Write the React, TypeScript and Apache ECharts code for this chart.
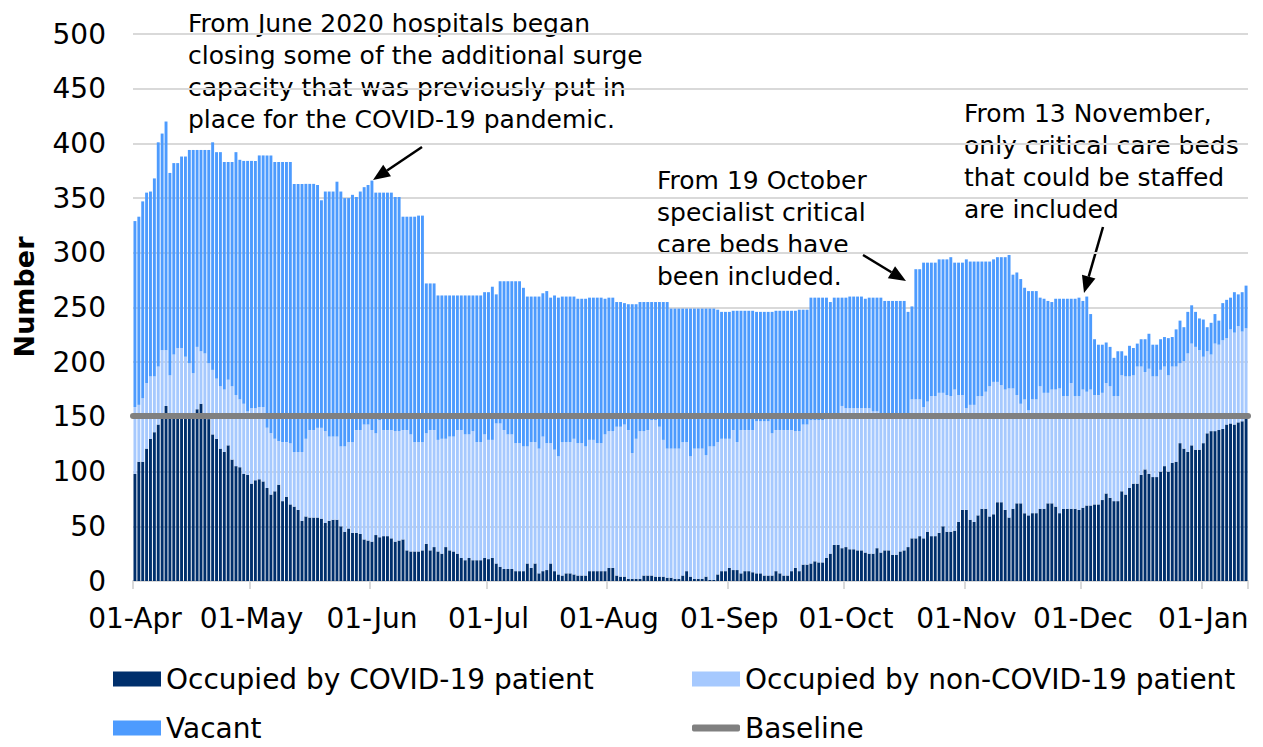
import React, { useEffect, useRef } from "react";
import * as echarts from "echarts";

// Daily critical care beds, 01-Apr-2020 to 12-Jan-2021
const covid = [
  98, 109, 109, 121, 130, 136, 143, 149, 160, 149,
  150, 150, 150, 151, 150, 150, 157, 162, 150, 148,
  134, 130, 121, 118, 124, 111, 105, 104, 98, 97,
  89, 92, 93, 91, 85, 79, 82, 88, 73, 77,
  70, 68, 65, 55, 59, 58, 58, 58, 57, 53,
  55, 56, 56, 50, 45, 48, 44, 44, 43, 38,
  37, 36, 42, 40, 41, 41, 39, 36, 37, 38,
  28, 27, 27, 27, 28, 34, 28, 31, 27, 25,
  31, 28, 27, 25, 21, 19, 21, 19, 19, 19,
  21, 20, 21, 16, 13, 11, 11, 11, 9, 9,
  9, 16, 12, 16, 7, 9, 10, 16, 9, 6,
  5, 7, 7, 6, 5, 5, 5, 9, 9, 9,
  9, 9, 12, 12, 5, 4, 4, 2, 2, 2,
  2, 5, 5, 5, 4, 4, 4, 3, 3, 2,
  2, 5, 9, 4, 2, 2, 2, 4, 1, 1,
  6, 9, 9, 12, 10, 10, 7, 9, 9, 8,
  7, 7, 5, 5, 5, 9, 7, 5, 5, 9,
  12, 9, 15, 15, 16, 18, 17, 17, 21, 25,
  33, 33, 30, 31, 29, 29, 28, 28, 26, 25,
  25, 30, 26, 28, 28, 24, 24, 27, 28, 31,
  39, 39, 41, 39, 45, 41, 41, 44, 50, 45,
  45, 46, 54, 65, 65, 56, 54, 60, 66, 66,
  59, 61, 72, 72, 65, 58, 66, 71, 71, 62,
  60, 62, 62, 66, 66, 71, 71, 68, 62, 66,
  66, 66, 66, 65, 67, 69, 69, 70, 70, 74,
  80, 76, 73, 73, 82, 79, 85, 89, 89, 97,
  102, 98, 95, 95, 100, 105, 100, 108, 109, 126,
  121, 118, 124, 120, 120, 126, 135, 137, 137, 138,
  139, 143, 144, 143, 145, 146, 149,
];

// All occupied beds (COVID-19 + non-COVID-19)
const occupied = [
  159, 161, 167, 181, 187, 187, 196, 211, 211, 188,
  207, 213, 213, 205, 199, 190, 214, 210, 208, 199,
  193, 185, 178, 175, 184, 178, 170, 166, 162, 155,
  158, 158, 159, 159, 140, 135, 130, 128, 127, 127,
  126, 118, 118, 118, 130, 138, 138, 140, 140, 137,
  132, 132, 132, 123, 123, 127, 127, 138, 138, 143,
  143, 138, 135, 147, 138, 138, 138, 137, 137, 138,
  138, 134, 127, 127, 127, 135, 138, 138, 129, 130,
  130, 132, 132, 138, 138, 134, 134, 137, 127, 127,
  134, 129, 129, 144, 144, 138, 134, 134, 126, 126,
  123, 123, 127, 127, 121, 132, 126, 126, 120, 114,
  127, 127, 127, 130, 126, 126, 123, 129, 129, 126,
  126, 134, 137, 137, 141, 141, 143, 138, 117, 130,
  137, 137, 138, 147, 147, 141, 129, 121, 121, 121,
  121, 127, 127, 114, 121, 121, 121, 115, 123, 123,
  127, 130, 130, 130, 138, 127, 138, 138, 138, 138,
  146, 146, 146, 146, 135, 138, 138, 138, 138, 138,
  137, 137, 143, 143, 147, 147, 147, 147, 152, 152,
  152, 152, 160, 158, 158, 158, 158, 158, 158, 158,
  155, 155, 150, 150, 150, 150, 152, 152, 152, 152,
  166, 166, 166, 159, 164, 169, 169, 172, 172, 170,
  169, 175, 170, 170, 158, 161, 161, 169, 169, 173,
  178, 182, 182, 179, 175, 176, 176, 170, 162, 166,
  156, 166, 166, 178, 172, 172, 175, 175, 176, 169,
  169, 181, 169, 169, 175, 173, 175, 170, 170, 172,
  181, 178, 169, 169, 188, 187, 187, 188, 196, 196,
  191, 194, 187, 187, 193, 196, 188, 196, 196, 199,
  201, 208, 217, 214, 211, 205, 210, 207, 217, 216,
  220, 222, 230, 227, 233, 228, 231,
];

// All available critical care beds (occupied + vacant)
const totalBeds = [
  329, 333, 347, 355, 356, 368, 401, 409, 420, 373,
  382, 382, 388, 388, 394, 394, 394, 394, 394, 394,
  401, 392, 392, 383, 383, 383, 392, 385, 384, 384,
  384, 384, 389, 389, 389, 389, 383, 383, 383, 383,
  383, 363, 363, 363, 363, 363, 363, 362, 348, 356,
  356, 356, 365, 356, 350, 350, 353, 351, 356, 360,
  362, 366, 355, 355, 355, 355, 355, 351, 351, 333,
  333, 333, 333, 334, 334, 272, 272, 272, 261, 261,
  261, 261, 261, 261, 261, 261, 261, 261, 261, 261,
  264, 264, 269, 262, 274, 274, 274, 274, 274, 274,
  268, 260, 260, 260, 260, 263, 265, 259, 261, 259,
  260, 260, 260, 260, 258, 258, 258, 259, 259, 259,
  259, 258, 259, 259, 255, 255, 254, 253, 253, 253,
  255, 255, 255, 255, 255, 255, 255, 255, 249, 249,
  249, 249, 249, 249, 249, 249, 249, 249, 249, 249,
  248, 246, 246, 246, 247, 247, 247, 247, 247, 247,
  246, 246, 246, 246, 246, 247, 247, 247, 247, 247,
  247, 248, 248, 248, 259, 259, 259, 259, 259, 255,
  259, 259, 259, 259, 260, 260, 260, 260, 258, 259,
  259, 259, 259, 256, 256, 256, 256, 256, 256, 246,
  251, 285, 285, 291, 291, 291, 291, 294, 294, 294,
  296, 291, 291, 291, 294, 292, 292, 292, 292, 292,
  292, 294, 296, 296, 296, 298, 280, 282, 276, 268,
  265, 265, 265, 259, 258, 256, 255, 258, 258, 258,
  258, 258, 258, 259, 256, 260, 244, 221, 216, 216,
  218, 214, 204, 210, 210, 206, 215, 213, 217, 221,
  221, 226, 216, 216, 221, 223, 222, 223, 230, 238,
  232, 246, 252, 246, 240, 239, 232, 236, 244, 238,
  254, 257, 259, 264, 262, 264, 270,
];

const BASELINE = 151;

const MONTHS = ["Jan", "Feb", "Mar", "Apr", "May", "Jun", "Jul", "Aug", "Sep", "Oct", "Nov", "Dec"];
const START_DATE = Date.UTC(2020, 3, 1);
const categories = covid.map((_, i) => {
  const d = new Date(START_DATE + i * 86400000);
  const day = d.getUTCDate();
  return (day < 10 ? "0" + day : String(day)) + "-" + MONTHS[d.getUTCMonth()];
});

const nonCovid = occupied.map((v, i) => v - covid[i]);
const vacant = totalBeds.map((v, i) => v - occupied[i]);

const FONT = '"DejaVu Sans", "Liberation Sans", sans-serif';
const C_COVID = "#002f6c";
const C_NONCOVID = "#a6c9fe";
const C_VACANT = "#4d9bfe";
const C_BASE = "#808080";
const C_GRID = "#d9d9d9";

function arrow(x1: number, y1: number, x2: number, y2: number) {
  const a = Math.atan2(y2 - y1, x2 - x1);
  const L = 17;
  const W = 7;
  const bx = x2 - L * Math.cos(a);
  const by = y2 - L * Math.sin(a);
  const px = -Math.sin(a);
  const py = Math.cos(a);
  return [
    {
      type: "line",
      shape: { x1, y1, x2: bx, y2: by },
      style: { stroke: "#000", lineWidth: 2.5 },
      silent: true,
    },
    {
      type: "polygon",
      shape: {
        points: [
          [x2, y2],
          [bx + px * W, by + py * W],
          [bx - px * W, by - py * W],
        ],
      },
      style: { fill: "#000" },
      silent: true,
    },
  ];
}

function note(x: number, y: number, text: string) {
  return {
    type: "text",
    x,
    y,
    silent: true,
    style: {
      text,
      fontSize: 25,
      fontFamily: FONT,
      lineHeight: 32,
      fill: "#000",
      align: "left",
      verticalAlign: "top",
    },
  };
}

function legendAt(left: number, top: number, name: string, extra: any = {}) {
  return {
    show: true,
    left,
    top,
    padding: 0,
    orient: "horizontal",
    data: [name],
    itemWidth: 48,
    itemHeight: 15,
    icon: "rect",
    selectedMode: false,
    textStyle: { fontSize: 28, fontFamily: FONT, color: "#000", lineHeight: 26 },
    ...extra,
  };
}

export default function App() {
  const ref = useRef<HTMLDivElement>(null);

  useEffect(() => {
    if (!ref.current) return;
    const chart = echarts.init(ref.current, null, { renderer: "svg" });
    const firstOfMonth = (_idx: number, value: string) => value.startsWith("01-");

    chart.setOption({
      animation: false,
      backgroundColor: "#ffffff",
      grid: { left: 133, right: 15, top: 34, bottom: 166 },
      xAxis: {
        type: "category",
        data: categories,
        boundaryGap: true,
        axisLine: { show: true, lineStyle: { color: C_GRID, width: 2 } },
        axisTick: {
          show: true,
          interval: firstOfMonth,
          length: 8,
          lineStyle: { color: C_GRID, width: 2 },
        },
        axisLabel: {
          interval: firstOfMonth,
          margin: 23,
          fontSize: 28,
          fontFamily: FONT,
          color: "#000",
          hideOverlap: false,
        },
        splitLine: { show: false },
      },
      yAxis: {
        type: "value",
        min: 0,
        max: 500,
        interval: 50,
        axisLine: { show: false },
        axisTick: { show: false },
        axisLabel: { margin: 27, fontSize: 28, fontFamily: FONT, color: "#000" },
        splitLine: { show: true, lineStyle: { color: C_GRID, width: 2 } },
      },
      legend: [
        legendAt(113, 665, "Occupied by COVID-19 patient"),
        legendAt(692, 665, "Occupied by non-COVID-19 patient"),
        legendAt(113, 714, "Vacant"),
        legendAt(692, 714, "Baseline", { icon: "roundRect", itemHeight: 7 }),
      ],
      series: [
        {
          name: "Occupied by COVID-19 patient",
          type: "bar",
          stack: "beds",
          data: covid,
          barCategoryGap: "25%",
          itemStyle: { color: C_COVID },
          silent: true,
        },
        {
          name: "Occupied by non-COVID-19 patient",
          type: "bar",
          stack: "beds",
          data: nonCovid,
          barCategoryGap: "25%",
          itemStyle: { color: C_NONCOVID },
          silent: true,
        },
        {
          name: "Vacant",
          type: "bar",
          stack: "beds",
          data: vacant,
          barCategoryGap: "25%",
          itemStyle: { color: C_VACANT },
          silent: true,
        },
        {
          name: "Baseline",
          type: "line",
          data: [],
          symbol: "none",
          itemStyle: { color: C_BASE },
          lineStyle: { color: C_BASE, width: 6 },
          z: 5,
          markLine: {
            silent: true,
            symbol: ["none", "none"],
            label: { show: false },
            lineStyle: { color: C_BASE, width: 6, type: "solid", cap: "round" },
            emphasis: { disabled: true },
            data: [{ yAxis: BASELINE }],
          },
        },
      ],
      graphic: [
        note(188, 7, "From June 2020 hospitals began\nclosing some of the additional surge\ncapacity that was previously put in\nplace for the COVID-19 pandemic."),
        note(657, 164, "From 19 October\nspecialist critical\ncare beds have\nbeen included."),
        note(964, 97, "From 13 November,\nonly critical care beds\nthat could be staffed\nare included"),
        ...arrow(422, 147, 373, 180),
        ...arrow(863, 255, 906, 281),
        ...arrow(1103, 227, 1084, 293),
        {
          type: "text",
          x: 24,
          y: 297,
          rotation: Math.PI / 2,
          silent: true,
          style: {
            text: "Number",
            fontSize: 27,
            fontWeight: "bold",
            fontFamily: FONT,
            fill: "#000",
            align: "center",
            verticalAlign: "middle",
          },
        },
      ],
    });

    return () => chart.dispose();
  }, []);

  return (
    <div
      ref={ref}
      style={{ position: "absolute", left: 0, top: 0, width: 1263, height: 747, background: "#fff" }}
    />
  );
}
